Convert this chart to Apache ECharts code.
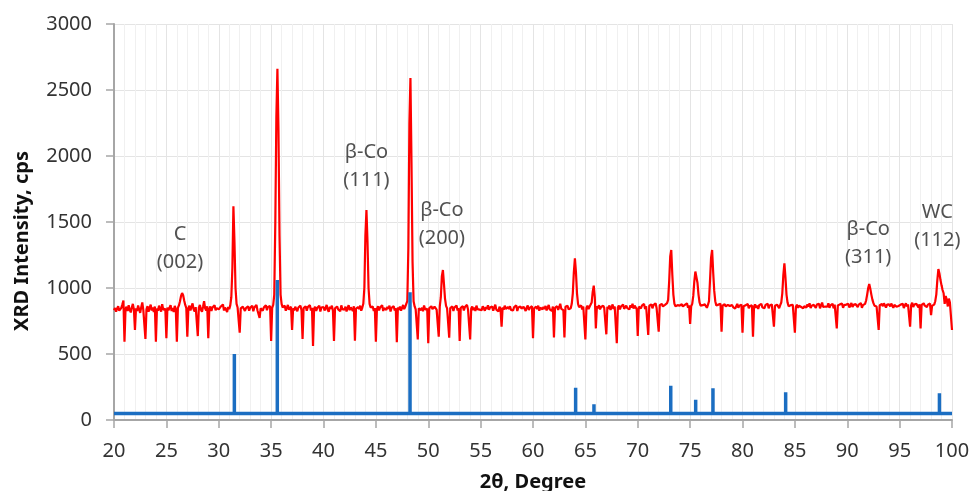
<!DOCTYPE html>
<html>
<head>
<meta charset="utf-8">
<script src="https://cdn.jsdelivr.net/npm/echarts@6/dist/echarts.min.js"></script>
<style>
  html, body { margin: 0; padding: 0; background: #fff; }
  #chart { width: 971px; height: 491px; }
</style>
</head>
<body>
<div id="chart"></div>
<script>
// measured pattern, one row per degree, 0.1 degree step from 20.0 to 100.0
const startAngle = 20;
const angleStep = 0.1;
const intensity = [
	832, 848, 820, 845, 862, 828, 818, 850, 876, 905,
	593, 842, 858, 826, 870, 834, 815, 852, 880, 838,
	682, 846, 825, 868, 838, 812, 855, 890, 832, 845,
	614, 838, 862, 820, 848, 874, 830, 852, 818, 860,
	593, 845, 828, 866, 840, 822, 878, 836, 850, 842,
	619, 852, 830, 844, 870, 826, 848, 818, 864, 840,
	593, 850, 868, 900, 940, 962, 945, 905, 872, 850,
	631, 845, 866, 830, 858, 884, 838, 822, 855, 842,
	636, 852, 872, 836, 820, 858, 900, 846, 830, 862,
	619, 842, 860, 826, 852, 838, 870, 832, 848, 856,
	838, 825, 860, 846, 875, 830, 852, 840, 818, 856,
	840, 868, 930, 1150, 1620, 1350, 1000, 880, 852, 838,
	661, 846, 832, 858, 870, 826, 848, 836, 862, 828,
	850, 838, 866, 824, 852, 840, 872, 830, 845, 773,
	846, 860, 828, 852, 838, 870, 832, 856, 842, 864,
	598, 850, 872, 950, 1500, 2300, 2660, 2200, 1400, 950,
	880, 852, 838, 866, 828, 850, 872, 836, 845, 858,
	682, 846, 830, 858, 870, 824, 852, 840, 866, 832,
	614, 848, 836, 862, 828, 855, 840, 870, 830, 850,
	561, 842, 858, 826, 848, 835, 866, 822, 852, 838,
	856, 830, 848, 872, 836, 820, 858, 842, 866, 828,
	598, 846, 832, 860, 838, 852, 824, 868, 840, 850,
	836, 858, 822, 848, 870, 832, 854, 840, 826, 862,
	601, 844, 830, 856, 840, 866, 828, 850, 880, 1000,
	1400, 1590, 1350, 1000, 880, 852, 838, 860, 826, 848,
	593, 840, 862, 830, 852, 838, 870, 826, 848, 856,
	834, 858, 842, 866, 822, 850, 838, 862, 830, 846,
	590, 852, 836, 860, 828, 850, 872, 840, 856, 880,
	900, 1300, 2250, 2590, 1950, 1200, 900, 860, 838, 852,
	611, 846, 860, 832, 850, 824, 868, 838, 852, 842,
	581, 848, 834, 862, 840, 826, 858, 870, 836, 850,
	631, 860, 930, 1090, 1136, 1030, 920, 865, 845, 858,
	624, 848, 834, 860, 826, 852, 840, 868, 830, 846,
	598, 850, 838, 862, 830, 856, 842, 872, 836, 848,
	611, 844, 860, 832, 852, 826, 866, 840, 854, 836,
	850, 832, 862, 846, 828, 856, 840, 870, 836, 852,
	840, 860, 828, 852, 874, 836, 848, 822, 858, 842,
	707, 852, 836, 866, 842, 828, 856, 840, 862, 834,
	848, 830, 856, 842, 868, 826, 852, 838, 860, 844,
	836, 858, 842, 826, 852, 868, 834, 850, 840, 862,
	619, 846, 832, 858, 840, 866, 828, 852, 844, 838,
	856, 840, 864, 830, 852, 872, 838, 846, 826, 860,
	626, 850, 838, 862, 834, 856, 880, 842, 848, 832,
	626, 858, 844, 866, 838, 852, 846, 880, 960, 1120,
	1225, 1120, 960, 880, 855, 842, 868, 838, 860, 850,
	611, 848, 866, 840, 858, 872, 890, 970, 1018, 930,
	694, 862, 846, 870, 838, 856, 842, 866, 850, 836,
	649, 858, 842, 868, 834, 852, 876, 840, 860, 846,
	581, 852, 868, 838, 860, 846, 874, 842, 856, 866,
	848, 862, 838, 870, 852, 880, 844, 866, 856, 840,
	636, 858, 872, 846, 866, 852, 880, 840, 862, 856,
	644, 866, 852, 876, 846, 870, 858, 884, 848, 862,
	669, 870, 856, 880, 860, 848, 872, 864, 885, 910,
	1050, 1240, 1288, 1100, 950, 880, 862, 858, 870, 856,
	866, 852, 878, 860, 846, 872, 858, 884, 850, 868,
	727, 862, 880, 940, 1050, 1125, 1110, 1040, 950, 890,
	866, 852, 870, 858, 876, 862, 850, 872, 900, 1060,
	1230, 1288, 1120, 980, 900, 868, 856, 874, 862, 880,
	669, 866, 852, 878, 860, 846, 872, 858, 864, 850,
	872, 856, 868, 844, 862, 880, 850, 866, 858, 874,
	662, 862, 848, 870, 856, 878, 846, 864, 852, 868,
	631, 860, 876, 850, 866, 842, 870, 858, 880, 852,
	864, 848, 872, 858, 880, 846, 868, 854, 876, 862,
	707, 866, 852, 874, 860, 848, 870, 890, 960, 1100,
	1187, 1080, 950, 890, 862, 848, 870, 856, 872, 860,
	662, 858, 874, 850, 866, 880, 856, 870, 846, 862,
	868, 852, 876, 860, 884, 848, 866, 856, 872, 858,
	850, 874, 862, 880, 846, 868, 890, 856, 870, 860,
	872, 858, 884, 850, 868, 862, 880, 846, 874, 866,
	694, 868, 854, 876, 862, 882, 850, 870, 858, 874,
	862, 880, 852, 868, 886, 856, 872, 860, 878, 866,
	856, 874, 862, 886, 850, 870, 864, 880, 905, 950,
	1000, 1030, 995, 950, 912, 885, 866, 878, 860, 872,
	682, 870, 856, 878, 862, 884, 868, 852, 874, 860,
	876, 860, 882, 866, 850, 872, 886, 858, 870, 864,
	858, 874, 862, 880, 848, 868, 884, 860, 876, 862,
	707, 870, 888, 856, 874, 862, 880, 866, 852, 876,
	694, 872, 858, 884, 866, 880, 856, 874, 862, 882,
	795, 866, 880, 874, 900, 950, 1060, 1144, 1110, 1060,
	1020, 985, 960, 880, 940, 910, 860, 920, 890, 900,
	682
];

// reference stick pattern
const stickBase = 50;
const stickPos = [31.49, 35.59, 48.26, 64.07, 65.82, 73.15, 75.53, 77.18, 84.12, 98.8];
const stickHeight = [500, 1060, 967, 245, 119, 260, 154, 240, 210, 202];

// peak labels
const annoText = ['C\n(002)', 'β-Co\n(111)', 'β-Co\n(200)', 'β-Co\n(311)', 'WC\n(112)'];
const annoX = [26.3, 44.1, 51.3, 92.0, 98.6];
const annoY = [1300, 1925, 1480, 1335, 1465];

const xTicks = { min: 20, max: 100, interval: 5 };
const yTicks = { min: 0, max: 3000, interval: 500 };

const font = '"Noto Sans", "Open Sans", sans-serif';
const axisGray = '#a6a6a6';
const textGray = '#333333';

const redData = intensity.map( ( v, i ) => [ Math.round( ( startAngle + i * angleStep ) * 10 ) / 10, v ] );

const stickData = [ [ xTicks.min, stickBase ] ];
stickPos.forEach( ( x, i ) => {
	stickData.push( [ x, stickBase ], [ x, stickHeight[ i ] ], [ x, stickBase ] );
} );
stickData.push( [ xTicks.max, stickBase ] );

const annoData = annoText.map( ( t, i ) => ( { name: t, value: [ annoX[ i ], annoY[ i ] ] } ) );

const chart = echarts.init( document.getElementById( 'chart' ), null, { renderer: 'canvas' } );

chart.setOption( {
	animation: false,
	backgroundColor: '#ffffff',
	// keep the plot box fixed, labels may sit outside it
	grid: { left: 114, right: 19, top: 24, bottom: 71, outerBoundsMode: 'none', containLabel: false },
	xAxis: {
		type: 'value',
		min: xTicks.min,
		max: xTicks.max,
		interval: xTicks.interval,
		name: '2θ, Degree',
		nameLocation: 'middle',
		nameGap: 52,
		nameTextStyle: { fontFamily: font, fontSize: 20, fontWeight: 'bold', color: '#111' },
		axisLine: { show: true, onZero: false, lineStyle: { color: axisGray, width: 2 } },
		axisTick: { show: true, length: 8, lineStyle: { color: axisGray, width: 1.5 } },
		axisLabel: { fontFamily: font, fontSize: 20, color: textGray, margin: 21 },
		splitLine: { show: true, lineStyle: { color: '#e4e4e4', width: 1 } },
		minorTick: { show: false, splitNumber: 5 },
		minorSplitLine: { show: true, lineStyle: { color: '#f0f0f0', width: 1 } }
	},
	yAxis: {
		type: 'value',
		min: yTicks.min,
		max: yTicks.max,
		interval: yTicks.interval,
		name: 'XRD Intensity, cps',
		nameLocation: 'middle',
		nameGap: 82,
		nameTextStyle: { fontFamily: font, fontSize: 20, fontWeight: 'bold', color: '#111', padding: [ 0, 38, 0, 0 ] },
		axisLine: { show: true, lineStyle: { color: axisGray, width: 2 } },
		axisTick: { show: true, length: 8, lineStyle: { color: axisGray, width: 1.5 } },
		axisLabel: {
			fontFamily: font,
			fontSize: 20,
			color: textGray,
			margin: 22,
			formatter: ( v ) => String( v )
		},
		splitLine: { show: true, lineStyle: { color: '#e4e4e4', width: 1 } }
	},
	series: [
		{
			name: 'sample',
			type: 'line',
			data: redData,
			showSymbol: false,
			symbol: 'none',
			silent: true,
			lineStyle: { color: '#ff0000', width: 2.2 },
			z: 2
		},
		{
			name: 'reference',
			type: 'line',
			data: stickData,
			showSymbol: false,
			symbol: 'none',
			silent: true,
			lineStyle: { color: '#1b6ec2', width: 3.5 },
			z: 3
		},
		{
			name: 'labels',
			type: 'scatter',
			data: annoData,
			symbolSize: 0,
			silent: true,
			label: {
				show: true,
				position: 'inside',
				formatter: ( p ) => p.name,
				fontFamily: font,
				fontSize: 20,
				lineHeight: 28,
				color: '#262626',
				align: 'center'
			},
			z: 4
		}
	]
} );
</script>
</body>
</html>
